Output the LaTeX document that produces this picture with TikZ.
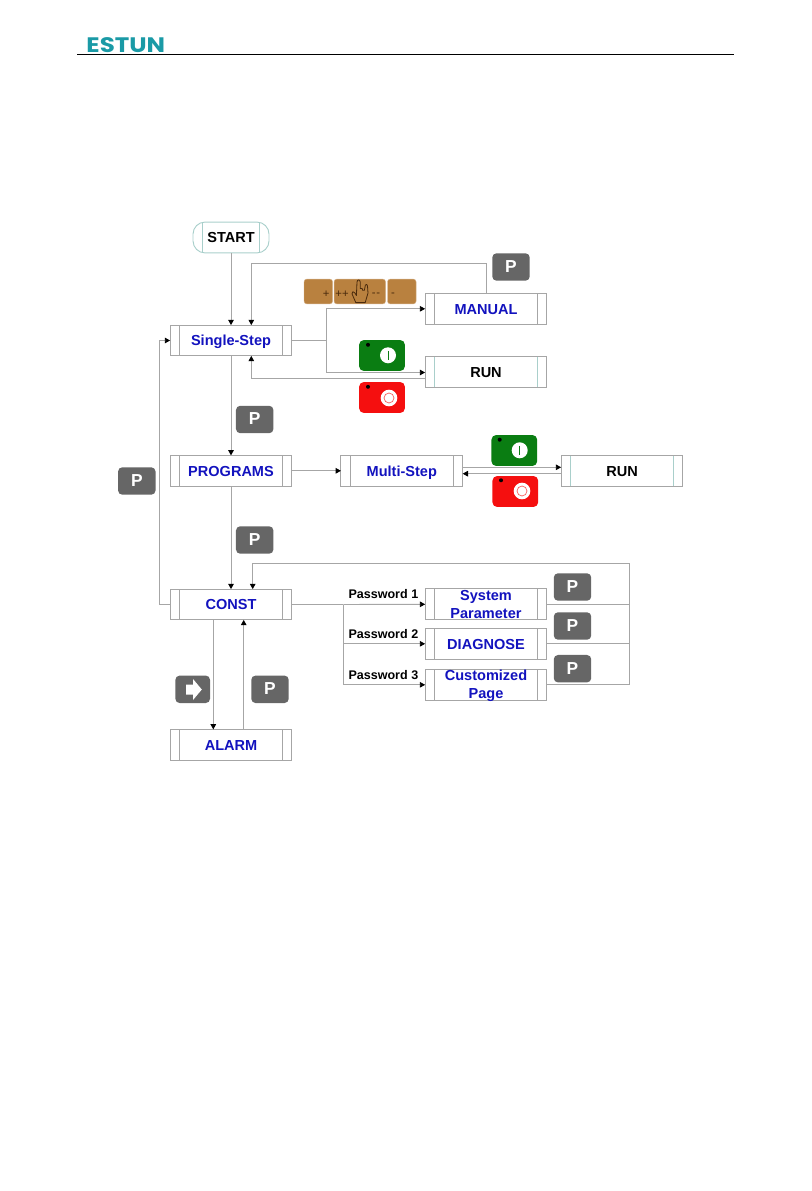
\documentclass[tikz,border=0pt]{standalone}
\usepackage{fontspec}
\setmainfont{Liberation Sans}
\newfontfamily\logofont{Poppins}
\usetikzlibrary{arrows.meta,calc}
\definecolor{boxblue}{HTML}{1212BE}
\definecolor{linegray}{HTML}{A6A6A6}
\definecolor{btngray}{HTML}{666666}
\definecolor{btngreen}{HTML}{0A7D12}
\definecolor{btnred}{HTML}{F50F0F}
\definecolor{brownbtn}{HTML}{B9813F}
\definecolor{browntxt}{HTML}{4A2A0C}
\definecolor{tealline}{HTML}{A9CFCB}
\definecolor{logoteal}{HTML}{1A9AA6}
\newcommand{\twolines}[2]{\makebox[0pt]{\smash{\raisebox{0.7pt}{\parbox[c]{100pt}{\centering\baselineskip=13.4pt #1\\#2}}}}}
\tikzset{
  x=0.75pt,y=-0.75pt,
  basebox/.style={rectangle,inner sep=0pt,outer sep=0pt,draw=#1,line width=0.7pt,
    minimum width=91.3pt,minimum height=23.1pt,font=\fontsize{10.9pt}{13pt}\selectfont\bfseries,
    text height=7.8pt,text depth=0pt},
  procbox/.style={basebox=linegray,text=boxblue,
    path picture={\draw[linegray,line width=0.7pt]
      ($(path picture bounding box.north west)+(9.4,0)$) -- ($(path picture bounding box.south west)+(9.4,0)$)
      ($(path picture bounding box.north east)+(-9.4,0)$) -- ($(path picture bounding box.south east)+(-9.4,0)$);}},
  runbox/.style={basebox=linegray,text=black,
    path picture={\draw[tealline,line width=0.7pt]
      ($(path picture bounding box.north west)+(9.4,0)$) -- ($(path picture bounding box.south west)+(9.4,0)$)
      ($(path picture bounding box.north east)+(-9.4,0)$) -- ($(path picture bounding box.south east)+(-9.4,0)$);}},
  startbox/.style={basebox=tealline,text=black,rounded corners=9pt,minimum width=57pt,
    path picture={\draw[tealline,line width=0.7pt]
      ($(path picture bounding box.north west)+(9.4,0)$) -- ($(path picture bounding box.south west)+(9.4,0)$)
      ($(path picture bounding box.north east)+(-9.4,0)$) -- ($(path picture bounding box.south east)+(-9.4,0)$);}},
  conn/.style={draw=linegray,line width=0.7pt,-{Triangle[length=4pt,width=4.2pt,black]}},
  plainconn/.style={draw=linegray,line width=0.7pt},
  pbtn/.style={rectangle,rounded corners=3.2pt,fill=btngray,draw=none,inner sep=0pt,outer sep=0pt,
    minimum width=28.1pt,minimum height=20.6pt,text=white,
    font=\fontsize{13pt}{13pt}\selectfont\bfseries},
  greenbtn/.style={rectangle,rounded corners=3.5pt,fill=btngreen,draw=none,inner sep=0pt,
    minimum width=34.3pt,minimum height=23.2pt},
  redbtn/.style={rectangle,rounded corners=3.5pt,fill=btnred,draw=none,inner sep=0pt,
    minimum width=34.3pt,minimum height=23.2pt},
  dotmark/.style={circle,fill=black,draw=none,inner sep=0pt,minimum size=3pt},
  onknob/.style={circle,fill=white,draw=none,inner sep=0pt,minimum size=12pt,
    path picture={\draw[btngreen,line width=0.5pt]
      ($(path picture bounding box.center)+(0,-4.5)$) -- ($(path picture bounding box.center)+(0,4.5)$);}},
  offknob/.style={circle,fill=white,draw=none,inner sep=0pt,minimum size=12.5pt},
  offring/.style={circle,draw=btnred!70!white,fill=white,line width=0.5pt,inner sep=0pt,minimum size=7.5pt},
  brownkey/.style={rectangle,rounded corners=2pt,fill=brownbtn,draw=brownbtn!60!white,line width=0.3pt,
    inner sep=0pt,minimum height=18.6pt},
  keytxt/.style={text=browntxt,inner sep=0pt,font=\fontsize{8.5pt}{8.5pt}\selectfont},
  pwlabel/.style={anchor=west,inner sep=0pt,font=\fontsize{9.4pt}{10pt}\selectfont\bfseries,text=black},
}
\begin{document}
\begin{tikzpicture}
\useasboundingbox (0,0) rectangle (811,1191);
% header
\node[inner sep=0pt,text=logoteal] (logo) at (125.8,45.4)
  {\resizebox{59pt}{11.2pt}{\fontsize{10pt}{10pt}\logofont\bfseries ESTUN}};
\coordinate (ruleL) at (77,54.2);
\coordinate (ruleR) at (734,54.2);
\draw[black,line width=0.7pt] (ruleL) -- (ruleR);
% boxes
\node[startbox] (start) at (231,237.5) {START};
\node[procbox] (single) at (231,340.5) {Single-Step};
\node[procbox] (manual) at (486,308.8) {MANUAL};
\node[runbox] (run1) at (486,372.3) {RUN};
\node[procbox] (programs) at (231,470.8) {PROGRAMS};
\node[procbox] (multi) at (401.8,470.8) {Multi-Step};
\node[runbox] (run2) at (622,470.8) {RUN};
\node[procbox] (const) at (231,604.5) {CONST};
\node[procbox] (alarm) at (231,744.8) {ALARM};
\node[procbox] (sys) at (486,604.3) {\twolines{System}{Parameter}};
\node[procbox] (diag) at (486,643.8) {DIAGNOSE};
\node[procbox] (cust) at (486,684.8) {\twolines{Customized}{Page}};
% bend points
\coordinate (manTop) at (251.3,263.3);
\coordinate (runBack) at (251.3,378.3);
\coordinate (fork) at (326.5,340.5);
\coordinate (leftBus) at (159.6,472);
\coordinate (constIn) at (252.7,563.3);
\coordinate (rightBus) at (629,563.3);
\coordinate (pwFork) at (343.3,604.5);
\coordinate (alarmDown) at (213.3,680);
\coordinate (alarmUp) at (243.7,680);
\coordinate (mOut) at (0,467.3);
\coordinate (mBack) at (0,473.7);
% connectors
\draw[conn] (start.south) -- (single.north);
\draw[conn] (manual.north) |- (manTop) -- (manTop |- single.north);
\draw[plainconn] (single.east) -- (fork);
\draw[conn] (fork) |- (manual.west);
\draw[conn] (fork) |- ($(run1.west)+(0,0.2)$);
\draw[conn] (run1.west |- runBack) -- (runBack) -- (runBack |- single.south);
\draw[conn] (single.south) -- (programs.north);
\draw[conn] (programs.east) -- (multi.west);
\draw[conn] (multi.east |- mOut) -- (run2.west |- mOut);
\draw[conn] (run2.west |- mBack) -- (multi.east |- mBack);
\draw[conn] (programs.south) -- (const.north);
\draw[conn] (const.west) -| (leftBus) |- (single.west);
\draw[conn] (rightBus |- cust.east) -- (rightBus) -- (constIn) -- (constIn |- const.north);
\draw[plainconn] (sys.east) -- (rightBus |- sys.east);
\draw[plainconn] (diag.east) -- (rightBus |- diag.east);
\draw[plainconn] (cust.east) -- (rightBus |- cust.east);
\draw[plainconn] (const.east) -- (pwFork);
\draw[conn] (pwFork) -- (sys.west);
\draw[conn] (pwFork) |- (diag.west);
\draw[conn] (pwFork) |- (cust.west);
\draw[conn] (alarmDown |- const.south) -- (alarmDown |- alarm.north);
\draw[conn] (alarmUp |- alarm.north) -- (alarmUp |- const.south);
% password labels
\node[pwlabel] (pw1) at (348.3,594) {Password 1};
\node[pwlabel] (pw2) at (348.3,634) {Password 2};
\node[pwlabel] (pw3) at (348.3,674.8) {Password 3};
% P buttons
\node[pbtn] (p1) at (511,267) {\raisebox{0.8pt}{P}};
\node[pbtn] (p2) at (254.7,419.5) {\raisebox{0.8pt}{P}};
\node[pbtn] (p3) at (136.8,481) {\raisebox{0.8pt}{P}};
\node[pbtn] (p4) at (254.7,540) {\raisebox{0.8pt}{P}};
\node[pbtn] (p5) at (572.5,587) {\raisebox{0.8pt}{P}};
\node[pbtn] (p6) at (572.5,626) {\raisebox{0.8pt}{P}};
\node[pbtn] (p7) at (572.5,668.7) {\raisebox{0.8pt}{P}};
\node[pbtn] (p8) at (270,689.3) {\raisebox{0.8pt}{P}};
\node[pbtn,minimum width=26pt] (arrowbtn) at (192.7,689.3) {};
\fill[white] (186,684.5) -- (193,684.5) -- (193,679) -- (201.8,689.5) -- (193,700) -- (193,694.5) -- (186,694.5) -- cycle;
% jog keys
\node[brownkey,minimum width=21.4pt] (k1) at (318.3,291.5) {};
\node[brownkey,minimum width=38.6pt] (k2) at (359.8,291.5) {};
\node[brownkey,minimum width=21.4pt] (k3) at (401.8,291.5) {};
\node[keytxt] (t1) at (326.3,294.5) {+};
\node[keytxt] (t2) at (342,294.5) {++};
\node[keytxt] (t3) at (376,294.5) {{-}\kern0.5pt{-}};
\node[keytxt] (t4) at (393,294.5) {-};
\draw[browntxt,line width=0.6pt,line join=round,fill=brownbtn]
  (355.8,302.6) -- (352,293.8) .. controls (351.4,291.3) and (353.8,291) .. (355,293)
  -- (356.4,295.5) -- (357,282) .. controls (357.2,279.2) and (360,279.2) .. (360.2,282)
  -- (360.2,288.5) -- (362.4,288.7) -- (362.4,290.2) -- (364.4,290.2) -- (365.4,285)
  .. controls (366,283.8) and (367.6,284.4) .. (367.5,286)
  -- (368,293) -- (365.2,302.6) -- cycle;
% green / red buttons
\node[greenbtn] (g1) at (382,355.5) {};
\node[dotmark] (g1d) at (368,344.8) {};
\node[onknob] (g1k) at (388,355.3) {};
\node[redbtn] (r1) at (382,397.5) {};
\node[dotmark] (r1d) at (368,386.8) {};
\node[offknob] (r1k) at (389,398) {};
\node[offring] (r1r) at (389,398) {};
\node[greenbtn] (g2) at (514.3,450.5) {};
\node[dotmark] (g2d) at (499.7,439.7) {};
\node[onknob] (g2k) at (519.7,450.3) {};
\node[redbtn] (r2) at (515.3,491.5) {};
\node[dotmark] (r2d) at (501,480.3) {};
\node[offknob] (r2k) at (522,491) {};
\node[offring] (r2r) at (522,491) {};
\end{tikzpicture}
\end{document}
